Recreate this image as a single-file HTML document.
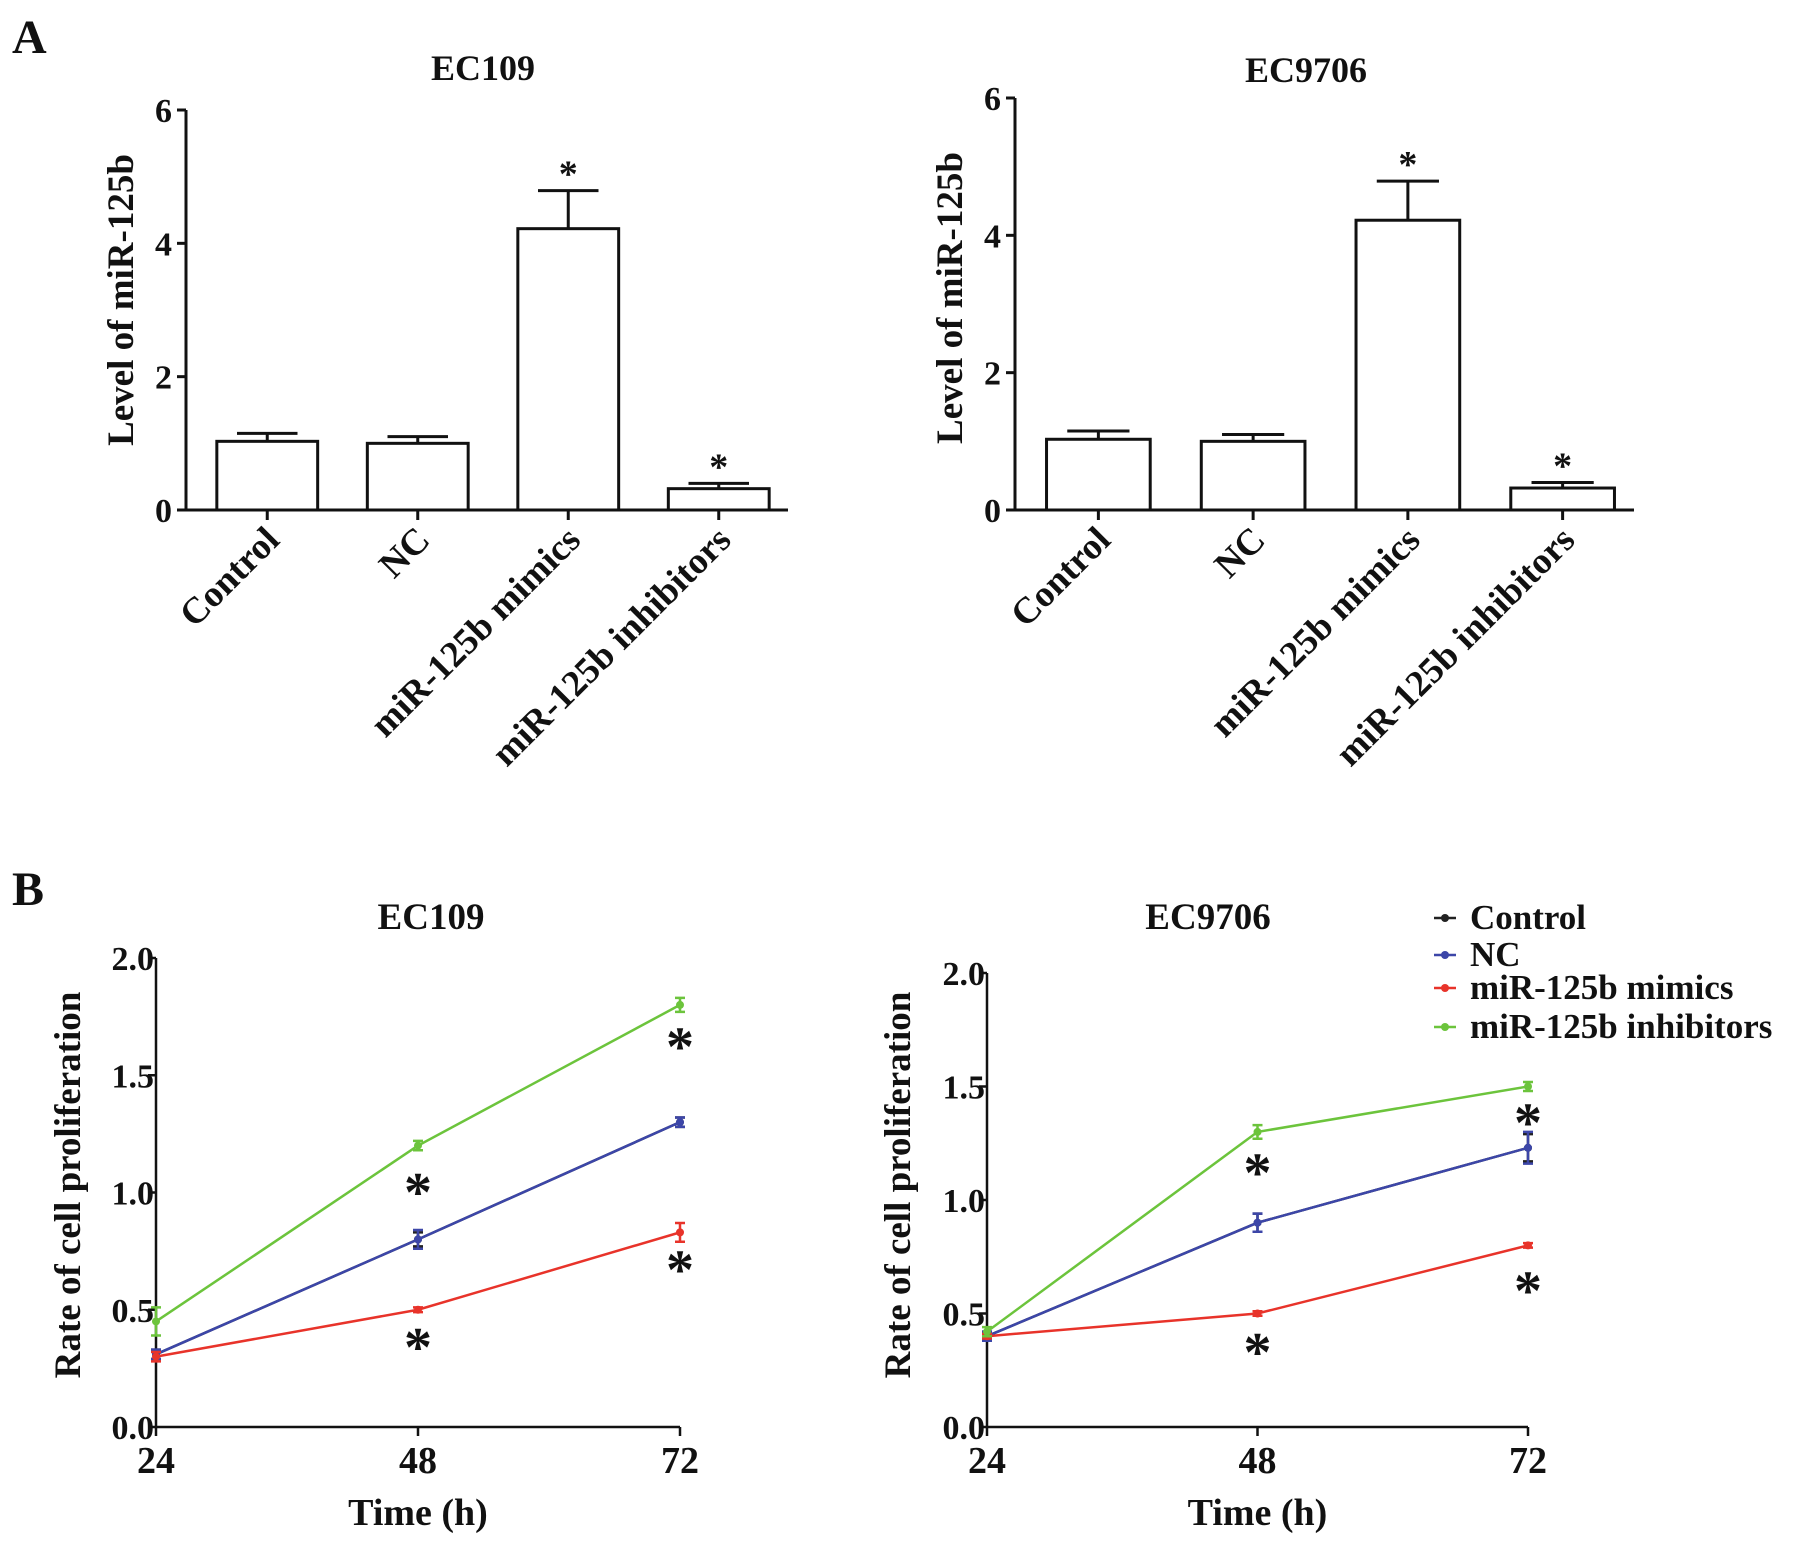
<!DOCTYPE html>
<html><head><meta charset="utf-8"><style>
html,body{margin:0;padding:0;background:#fff}
svg{display:block}
text{font-family:"Liberation Serif",serif;font-weight:bold;fill:#111}
</style></head><body>
<svg id="fig" width="1795" height="1543" viewBox="0 0 1795 1543" xmlns="http://www.w3.org/2000/svg">
<text x="12" y="53" font-size="48">A</text>
<text x="12" y="905" font-size="48">B</text>
</svg>
<script>
const barCategories = ["Control","NC","miR-125b mimics","miR-125b inhibitors"];
const barEC109 = [1.03, 1.0, 4.22, 0.32];
const barEC109Err = [0.12, 0.1, 0.57, 0.08];
const barEC9706 = [1.03, 1.0, 4.22, 0.32];
const barEC9706Err = [0.12, 0.1, 0.57, 0.08];
const barSig = [false, false, true, true];
const barTicks = [0, 2, 4, 6];

const timePoints = [24, 48, 72];
const lineSeriesNames = ["Control","NC","miR-125b mimics","miR-125b inhibitors"];
const lineColors = ["#222222","#3c46a8","#e8332a","#6cc43c"];
const lcEC109Control = [0.31, 0.8, 1.3];
const lcEC109NC = [0.31, 0.8, 1.3];
const lcEC109Mimics = [0.30, 0.5, 0.83];
const lcEC109Inhib = [0.45, 1.2, 1.8];
const lcEC109Err = [[0.02,0.03,0.02],[0.02,0.04,0.02],[0.02,0.01,0.04],[0.06,0.02,0.03]];
const lcEC9706Control = [0.40, 0.9, 1.23];
const lcEC9706NC = [0.40, 0.9, 1.23];
const lcEC9706Mimics = [0.40, 0.5, 0.8];
const lcEC9706Inhib = [0.42, 1.3, 1.5];
const lcEC9706Err = [[0.02,0.04,0.06],[0.02,0.04,0.07],[0.01,0.01,0.01],[0.02,0.03,0.02]];
const lineTicks = [0.0, 0.5, 1.0, 1.5, 2.0];
const sigEC109 = [[1,1.04],[2,1.66],[1,0.38],[2,0.71]];
const sigEC9706 = [[1,1.16],[2,1.38],[1,0.37],[2,0.64]];

const svg = document.getElementById('fig');
const NS = "http://www.w3.org/2000/svg";
function mk(tag, attrs, parent){const e=document.createElementNS(NS,tag);for(const k in attrs)e.setAttribute(k,attrs[k]);(parent||svg).appendChild(e);return e;}

function barChart(o){
  const g = mk('g',{});
  
  
  const y = v => o.y0 - (v/6)*(o.y0-o.y6);
  const ax = mk('path',{d:`M${o.ax} ${o.y6}V${o.y0}H${o.xEnd}`,stroke:'#111','stroke-width':3,fill:'none'},g);
  
  
  barTicks.forEach(t=>{
    mk('line',{x1:o.ax-9,x2:o.ax,y1:y(t),y2:y(t),stroke:'#111','stroke-width':3},g);
    const tl = mk('text',{x:o.ax-14,y:y(t)+12,'font-size':34,'text-anchor':'end'},g);
    tl.textContent = t;
    
    
  });
  const slot = (o.xEnd - o.ax)/4;
  o.vals.forEach((v,i)=>{
    const cx = o.ax + slot*(i+0.5) + 6;
    const w = slot*0.67;
    const err = o.err[i];
    const el = mk('line',{x1:cx,x2:cx,y1:y(v),y2:y(v+err),stroke:'#111','stroke-width':3},g);
    
    
    mk('line',{x1:cx-w*0.3,x2:cx+w*0.3,y1:y(v+err),y2:y(v+err),stroke:'#111','stroke-width':3},g);
    const r = mk('rect',{x:cx-w/2,y:y(v),width:w,height:o.y0-y(v),fill:'#fff',stroke:'#111','stroke-width':3},g);
    
    
    mk('line',{x1:cx,x2:cx,y1:o.y0,y2:o.y0+10,stroke:'#111','stroke-width':3},g);
    if(barSig[i]){
      const s = mk('text',{x:cx,y:y(v+err)-4,'font-size':38,'text-anchor':'middle'},g);
      s.textContent='*';
      
      
    }
    const lab = mk('text',{x:cx+14,y:o.y0+32,'font-size':37,'text-anchor':'end',transform:`rotate(-45 ${cx+14} ${o.y0+32})`},g);
    lab.textContent = barCategories[i];
    
    
  });
  const t = mk('text',{x:o.tx,y:o.ty,'font-size':36,'text-anchor':'middle'},g);
  t.textContent = o.title;
  
  
  const yl = mk('text',{x:o.ylx,y:o.yly,'font-size':37,'text-anchor':'middle',transform:`rotate(-90 ${o.ylx} ${o.yly})`},g);
  yl.textContent = 'Level of miR-125b';
  
  
}
barChart({name:'bar-chart-ec109',ax:186,y6:110,y0:510,xEnd:788,vals:barEC109,err:barEC109Err,title:'EC109',tx:483,ty:80,ylx:133,yly:300});
barChart({name:'bar-chart-ec9706',ax:1015,y6:98,y0:510,xEnd:1634,vals:barEC9706,err:barEC9706Err,title:'EC9706',tx:1306,ty:82,ylx:962,yly:298});

function lineChart(o){
  const g = mk('g',{});
  
  
  const x = t => o.x0 + (t-24)/48*(o.x1-o.x0);
  const y = v => o.y0 - (v/2)*(o.y0-o.y2);
  const ax = mk('path',{d:`M${o.x0} ${o.y2}V${o.y0}H${o.x1}`,stroke:'#111','stroke-width':2.5,fill:'none'},g);
  
  
  lineTicks.forEach(t=>{
    mk('line',{x1:o.x0-8,x2:o.x0,y1:y(t),y2:y(t),stroke:'#111','stroke-width':2.5},g);
    const tl = mk('text',{x:o.x0-2,y:y(t)+12,'font-size':34,'text-anchor':'end'},g);
    tl.textContent = t.toFixed(1);
    
    
  });
  timePoints.forEach(t=>{
    mk('line',{x1:x(t),x2:x(t),y1:o.y0,y2:o.y0+9,stroke:'#111','stroke-width':2.5},g);
    const tl = mk('text',{x:x(t),y:o.y0+46,'font-size':38,'text-anchor':'middle'},g);
    tl.textContent = t;
    
    
  });
  [0,1,2,3].forEach(si=>{
    const vals = o.series[si];
    const pts = vals.map((v,i)=>x(timePoints[i])+','+y(v)).join(' ');
    const pl = mk('polyline',{points:pts,fill:'none',stroke:lineColors[si],'stroke-width':2.5},g);
    
    
    vals.forEach((v,i)=>{
      const cx=x(timePoints[i]), e=o.err[si][i];
      mk('path',{d:`M${cx} ${y(v+e)}V${y(v-e)}M${cx-5} ${y(v+e)}H${cx+5}M${cx-5} ${y(v-e)}H${cx+5}`,stroke:lineColors[si],'stroke-width':2.5,fill:'none'},g);
      const m = mk('circle',{cx:cx,cy:y(v),r:4,fill:lineColors[si]},g);
      
      
    });
  });
  o.sig.forEach(s=>{
    const st = mk('text',{x:x(timePoints[s[0]]),y:y(s[1])+28,'font-size':56,'text-anchor':'middle'},g);
    st.textContent='*';
    
    
  });
  const t = mk('text',{x:o.tx,y:929,'font-size':37,'text-anchor':'middle'},g);
  t.textContent = o.title;
  
  
  const xl = mk('text',{x:(o.x0+o.x1)/2,y:1525,'font-size':38,'text-anchor':'middle'},g);
  xl.textContent = 'Time (h)';
  
  
  const yl = mk('text',{x:o.ylx,y:1185,'font-size':37,'text-anchor':'middle',transform:`rotate(-90 ${o.ylx} 1185)`},g);
  yl.textContent = 'Rate of cell proliferation';
  
  
}
lineChart({name:'line-chart-ec109',x0:156,x1:680,y0:1427,y2:958,series:[lcEC109Control,lcEC109NC,lcEC109Mimics,lcEC109Inhib],err:lcEC109Err,sig:sigEC109,title:'EC109',tx:431,ylx:80});
lineChart({name:'line-chart-ec9706',x0:987,x1:1528,y0:1427,y2:973,series:[lcEC9706Control,lcEC9706NC,lcEC9706Mimics,lcEC9706Inhib],err:lcEC9706Err,sig:sigEC9706,title:'EC9706',tx:1208,ylx:910});

const lg = mk('g',{});


const legY=[918,955,988,1027];
lineSeriesNames.forEach((n,i)=>{
  const ent = mk('g',{},lg);
  
  
  mk('line',{x1:1434,x2:1456,y1:legY[i],y2:legY[i],stroke:lineColors[i],'stroke-width':2.5},ent);
  mk('circle',{cx:1445,cy:legY[i],r:4,fill:lineColors[i]},ent);
  const t = mk('text',{x:1470,y:legY[i]+11,'font-size':35},ent);
  t.textContent = n;
});
</script>
</body></html>
